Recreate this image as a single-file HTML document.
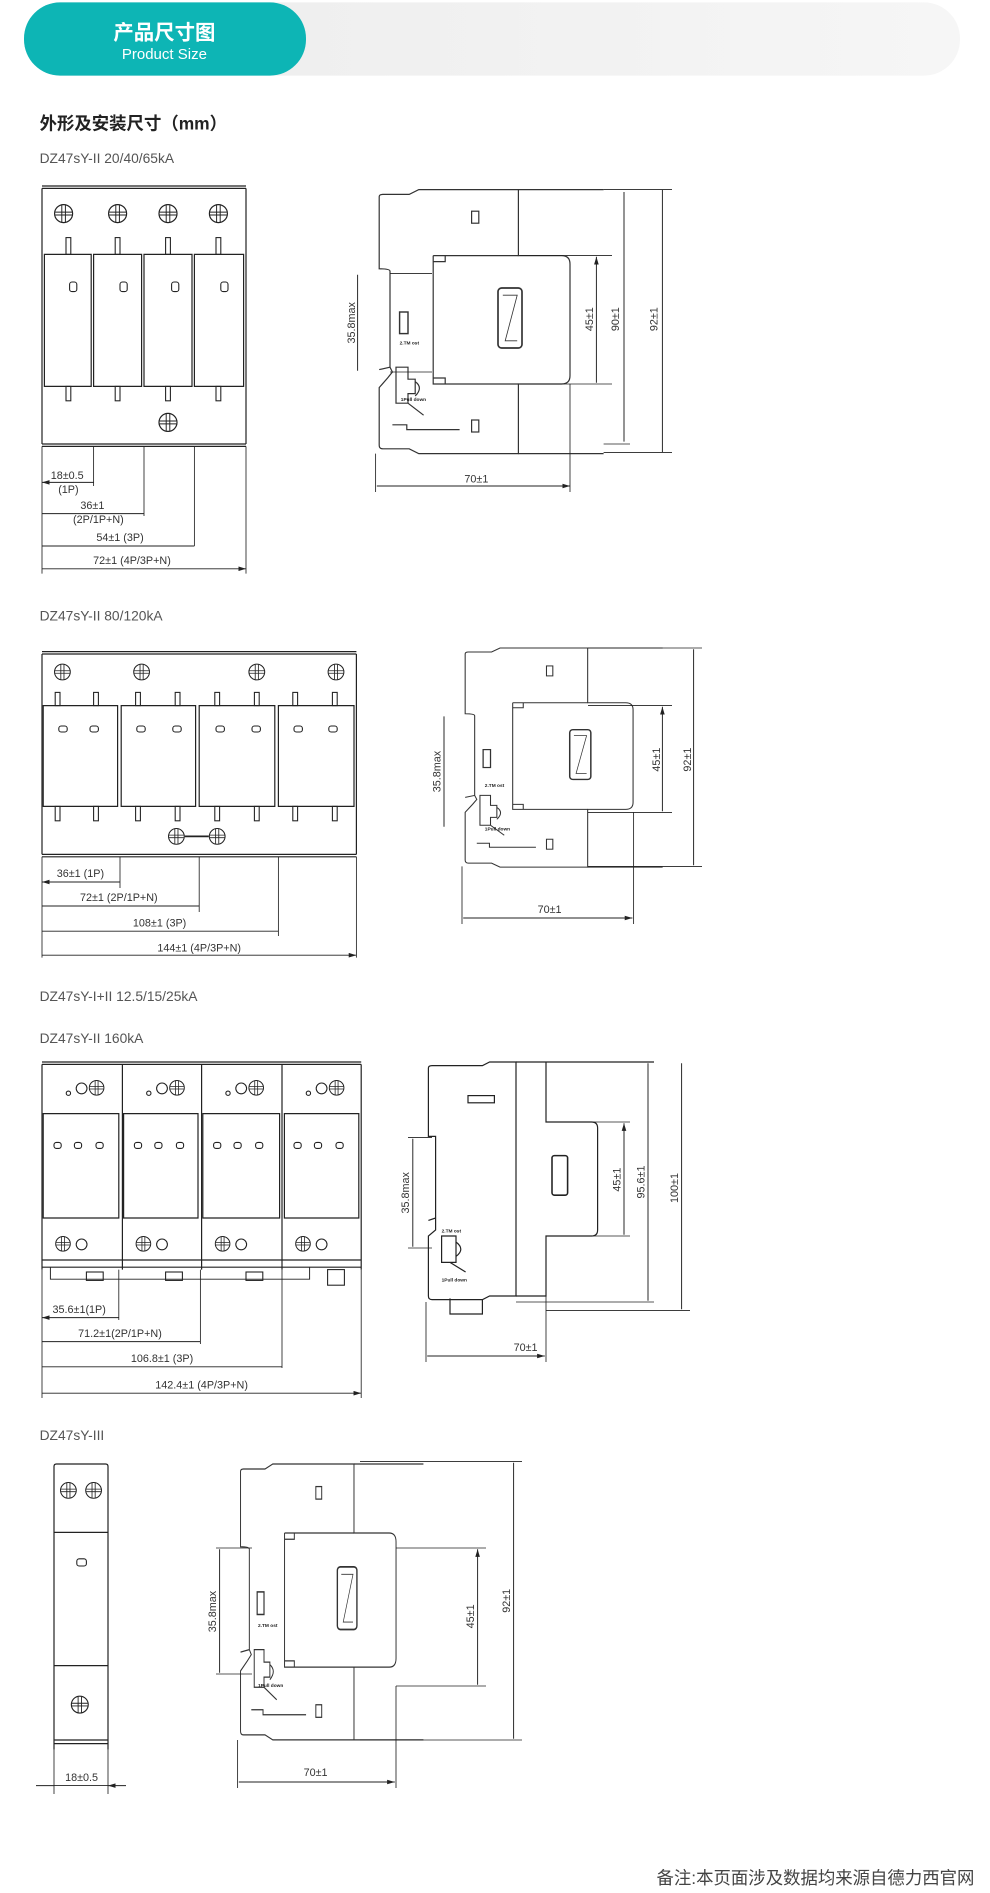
<!DOCTYPE html>
<html><head><meta charset="utf-8"><style>
html,body{margin:0;padding:0;background:#fff;}
svg{display:block}
text{font-family:"Liberation Sans","Noto Sans CJK SC",sans-serif;}
</style></head><body>
<svg width="990" height="1893" viewBox="0 0 825 1577.5" xmlns="http://www.w3.org/2000/svg">
<defs>
<linearGradient id="gb" x1="0" x2="1"><stop offset="0" stop-color="#ececec"/><stop offset="1" stop-color="#f6f6f6"/></linearGradient>
<marker id="ar" viewBox="0 0 10 6" refX="10" refY="3" markerWidth="8" markerHeight="5" orient="auto-start-reverse"><path d="M0,0L10,3L0,6z" fill="#222"/></marker>
<symbol id="sc" viewBox="-8 -8 16 16" overflow="visible">
<circle r="7.5" fill="#fff" stroke="#222" stroke-width="1"/>
<path d="M-1.5,-7V7M1.5,-7V7M-7,-1.2H7M-7,1.2H7" stroke="#222" stroke-width="0.8"/>
</symbol>
<g id="side" fill="none" stroke="#333" stroke-width="1">
<path d="M3,6 Q3,4 6,4 L28,4 L36,0 L119,0 L119,55 L155,55 Q162,55 162,62 L162,155 Q162,162 155,162 L119,162 L119,220 L36,220 L28,216 L6,216 Q3,216 3,213 L3,165 L10,157 L14,152 L12,148 L3,150 M3,6 L3,66 Q12,66 12,68 L12,148"/>
<path d="M119,0 L190,0 M119,220 L190,220"/>
<path d="M48,55 L119,55 M48,55 L48,162 L119,162 M48,60 L58,60 L58,55 M48,157 L58,157 L58,162"/>
<rect x="80" y="18" width="6" height="10"/>
<rect x="80" y="192" width="6" height="10"/>
<rect x="102" y="82" width="20" height="50" rx="3" stroke-width="1.4"/>
<path d="M106,88 L118,88 L108,126 L118,126" stroke-width="0.7"/>
<rect x="20" y="102" width="7" height="18" stroke-width="1.2"/>
<path d="M17,148 L27,148 L27,158 L33,158 L33,170 L27,170 L27,178 L17,178z M33,160 Q40,165 33,172 M27,178 L40,188"/>
<path d="M14,196 L26,196 L26,200 L70,200"/>
</g>
</defs>

<!-- header -->
<rect x="20" y="2" width="780" height="61" rx="30" fill="url(#gb)"/>
<rect x="20" y="2" width="235" height="61" rx="30" fill="#0db5b5"/>
<text x="137" y="33" text-anchor="middle" font-size="17" font-weight="bold" fill="#fff">产品尺寸图</text>
<text x="137" y="49" text-anchor="middle" font-size="12.5" fill="#fff">Product Size</text>

<text x="33" y="108" font-size="14.5" font-weight="bold" fill="#222">外形及安装尺寸（mm）</text>
<g font-size="11.5" fill="#555">
<text x="33" y="136">DZ47sY-II 20/40/65kA</text>
<text x="33" y="517">DZ47sY-II 80/120kA</text>
<text x="33" y="834">DZ47sY-I+II 12.5/15/25kA</text>
<text x="33" y="869">DZ47sY-II 160kA</text>
<text x="33" y="1200">DZ47sY-III</text>
</g>

<g fill="none" stroke="#222" stroke-width="1">
<!-- Section 1 front -->
<path d="M35,157 H205 M35,155 H205 M35,157 V370 M205,157 V370 M35,370 H205 M35,372 H205"/>
<path d="M37,212 H76 V322 H37z M78,212 H118 V322 H78z M120,212 H160 V322 H120z M162,212 H203 V322 H162z"/>
<g stroke-width="0.9">
<rect x="55" y="198" width="4" height="14"/><rect x="96" y="198" width="4" height="14"/><rect x="138" y="198" width="4" height="14"/><rect x="180" y="198" width="4" height="14"/>
<rect x="55" y="322" width="4" height="12"/><rect x="96" y="322" width="4" height="12"/><rect x="138" y="322" width="4" height="12"/><rect x="180" y="322" width="4" height="12"/>
<rect x="58" y="235" width="6" height="8" rx="2"/><rect x="100" y="235" width="6" height="8" rx="2"/><rect x="143" y="235" width="6" height="8" rx="2"/><rect x="184" y="235" width="6" height="8" rx="2"/>
</g>
<path d="M78,372 V405 M120,372 V430 M162,372 V455 M35,372 V478 M205,372 V478" stroke-width="0.7"/>
<path d="M35,402 H78 M35,428 H120 M35,455 H162 M35,474 H205" marker-start="url(#ar)" marker-end="url(#ar)" stroke-width="0.8"/>
<!-- Section 1 side -->
<use href="#side" x="313" y="158"/>
<path d="M433,213 H510 M433,320 H510 M360,228 H325 M360,310 H325 M475,320 V410 M313,378 V410" stroke-width="0.7"/>
<path d="M497,214 V319 M520,160 V368 M552,158 V377 M298,229 V309 M314,405 H475" marker-start="url(#ar)" marker-end="url(#ar)" stroke-width="0.8"/>
<path d="M503,158 H560 M503,377 H560 M503,370 H525" stroke-width="0.7"/>

<!-- Section 2 front -->
<path d="M35,543 H297 M35,545 H297 M35,545 V712 M297,545 V712 M35,712 H297 M35,714 H297"/>
<path d="M36,588 H98 V672 H36z M101,588 H163 V672 H101z M166,588 H229 V672 H166z M232,588 H295 V672 H232z"/>
<g stroke-width="0.9">
<rect x="46" y="577" width="4" height="11"/><rect x="78" y="577" width="4" height="11"/><rect x="113" y="577" width="4" height="11"/><rect x="146" y="577" width="4" height="11"/><rect x="179" y="577" width="4" height="11"/><rect x="212" y="577" width="4" height="11"/><rect x="244" y="577" width="4" height="11"/><rect x="277" y="577" width="4" height="11"/>
<rect x="46" y="672" width="4" height="12"/><rect x="78" y="672" width="4" height="12"/><rect x="113" y="672" width="4" height="12"/><rect x="146" y="672" width="4" height="12"/><rect x="179" y="672" width="4" height="12"/><rect x="212" y="672" width="4" height="12"/><rect x="244" y="672" width="4" height="12"/><rect x="277" y="672" width="4" height="12"/>
<rect x="49" y="605" width="7" height="5" rx="2"/><rect x="75" y="605" width="7" height="5" rx="2"/><rect x="114" y="605" width="7" height="5" rx="2"/><rect x="144" y="605" width="7" height="5" rx="2"/><rect x="180" y="605" width="7" height="5" rx="2"/><rect x="210" y="605" width="7" height="5" rx="2"/><rect x="245" y="605" width="7" height="5" rx="2"/><rect x="274" y="605" width="7" height="5" rx="2"/>
</g>
<path d="M154,697 H174" stroke-width="1.4"/>
<path d="M100,714 V740 M166,714 V760 M232,714 V780 M35,714 V798 M297,714 V798" stroke-width="0.7"/>
<path d="M35,735 H100 M35,755 H166 M35,776 H232 M35,796 H297" marker-start="url(#ar)" marker-end="url(#ar)" stroke-width="0.8"/>
<!-- Section 2 side -->
<use href="#side" transform="translate(385,540) scale(0.88,0.83)"/>
<path d="M490,588 H560 M490,677 H560 M528,677 V770 M385,722 V770 M490,540 H585 M490,722 H585" stroke-width="0.7"/>
<path d="M552,589 V676 M578,541 V721 M370,597 V689 M386,765 H527" marker-start="url(#ar)" marker-end="url(#ar)" stroke-width="0.8"/>

<!-- Section 3 front -->
<path d="M35,885 H301 M35,887 H301 M35,887 V1058 M301,887 V1058 M102,887 V1058 M168,887 V1058 M235,887 V1058"/>
<path d="M36,928 H99 V1015 H36z M103,928 H165 V1015 H103z M169,928 H233 V1015 H169z M237,928 H299 V1015 H237z M35,1050 H301 M35,1056 H301"/>
<path d="M42,1056 V1066 H258 V1056" stroke-width="0.8"/>
<g stroke-width="0.9">
<rect x="72" y="1060" width="14" height="7"/><rect x="138" y="1060" width="14" height="7"/><rect x="205" y="1060" width="14" height="7"/><rect x="273" y="1058" width="14" height="13"/>
<rect x="45" y="952" width="6" height="5" rx="2"/><rect x="62" y="952" width="6" height="5" rx="2"/><rect x="80" y="952" width="6" height="5" rx="2"/>
<rect x="112" y="952" width="6" height="5" rx="2"/><rect x="129" y="952" width="6" height="5" rx="2"/><rect x="147" y="952" width="6" height="5" rx="2"/>
<rect x="178" y="952" width="6" height="5" rx="2"/><rect x="195" y="952" width="6" height="5" rx="2"/><rect x="213" y="952" width="6" height="5" rx="2"/>
<rect x="245" y="952" width="6" height="5" rx="2"/><rect x="262" y="952" width="6" height="5" rx="2"/><rect x="280" y="952" width="6" height="5" rx="2"/>
<circle cx="57" cy="911" r="1.8"/><circle cx="68" cy="907" r="4.5"/><circle cx="124" cy="911" r="1.8"/><circle cx="135" cy="907" r="4.5"/><circle cx="190" cy="911" r="1.8"/><circle cx="201" cy="907" r="4.5"/><circle cx="257" cy="911" r="1.8"/><circle cx="268" cy="907" r="4.5"/>
<circle cx="68" cy="1037" r="4.5"/><circle cx="135" cy="1037" r="4.5"/><circle cx="201" cy="1037" r="4.5"/><circle cx="268" cy="1037" r="4.5"/>
</g>
<path d="M99,1058 V1100 M167,1058 V1120 M235,1058 V1140 M35,1058 V1165 M301,1058 V1165" stroke-width="0.7"/>
<path d="M35,1098 H99 M35,1118 H167 M35,1139 H235 M35,1161 H301" marker-start="url(#ar)" marker-end="url(#ar)" stroke-width="0.8"/>
<!-- Section 3 side -->
<path d="M357,890 Q357,888 360,888 L402,888 L408,885 L430,885 L430,1080 L408,1080 L402,1083 L360,1083 Q357,1083 357,1080 L357,1030 L363,1025 L363,1015 L357,1017 M357,890 L357,947 L363,947 L363,1015"/>
<path d="M430,885 L455,885 L455,935 L493,935 Q498,935 498,940 L498,1025 Q498,1030 493,1030 L455,1030 L455,1080 L430,1080 M455,885 L545,885"/>
<rect x="390" y="913" width="22" height="6"/>
<rect x="460" y="963" width="13" height="33" rx="2" stroke-width="1.3"/>
<path d="M368,1030 L380,1030 L380,1052 L368,1052z M380,1035 Q388,1041 380,1047 M375,1052 L388,1060 M375,1082 L375,1095 L402,1095 L402,1083"/>
<path d="M455,935 H525 M455,1030 H525 M360,948 H340 M360,1040 H340 M455,1092 H575 M455,1030 V1135 M355,1085 V1135" stroke-width="0.7"/>
<path d="M520,936 V1029 M540,886 V1084 M568,886 V1091 M344,949 V1039 M356,1130 H454" marker-start="url(#ar)" marker-end="url(#ar)" stroke-width="0.8"/>
<path d="M430,1085 H545" stroke-width="0.7"/>

<!-- Section 4 front -->
<path d="M45,1222 Q45,1220 47,1220 H88 Q90,1220 90,1222 V1458 M45,1222 V1458 M45,1277 H90 M45,1388 H90 M45,1450 H90 M45,1453 H90"/>
<rect x="64" y="1299" width="8" height="6" rx="2" stroke-width="0.9"/>
<path d="M45,1458 V1495 M90,1458 V1495" stroke-width="0.7"/>
<path d="M30,1488 H45 M105,1488 H90" marker-end="url(#ar)" stroke-width="0.8"/>
<path d="M45,1488 H90" stroke-width="0.7"/>
<!-- Section 4 side -->
<use href="#side" transform="translate(198,1220) scale(0.815,1.045)"/>
<path d="M330,1290 H405 M330,1405 H405 M330,1405 V1490 M198,1450 V1490 M300,1218 H435 M300,1450 H435 M210,1290 H180 M210,1395 H180" stroke-width="0.7"/>
<path d="M398,1291 V1404 M428,1219 V1449 M183,1291 V1394 M199,1485 H329" marker-start="url(#ar)" marker-end="url(#ar)" stroke-width="0.8"/>
</g>

<!-- screws -->
<use href="#sc" x="45" y="170" width="16" height="16"/><use href="#sc" x="90" y="170" width="16" height="16"/><use href="#sc" x="132" y="170" width="16" height="16"/><use href="#sc" x="174" y="170" width="16" height="16"/>
<use href="#sc" x="132" y="344" width="16" height="16"/>
<use href="#sc" x="45" y="553" width="14" height="14"/><use href="#sc" x="111" y="553" width="14" height="14"/><use href="#sc" x="207" y="553" width="14" height="14"/><use href="#sc" x="273" y="553" width="14" height="14"/>
<use href="#sc" x="140" y="690" width="14" height="14"/><use href="#sc" x="174" y="690" width="14" height="14"/>
<use href="#sc" x="74" y="900" width="13" height="13"/><use href="#sc" x="141" y="900" width="13" height="13"/><use href="#sc" x="207" y="900" width="13" height="13"/><use href="#sc" x="274" y="900" width="13" height="13"/>
<use href="#sc" x="46" y="1030" width="13" height="13"/><use href="#sc" x="113" y="1030" width="13" height="13"/><use href="#sc" x="179" y="1030" width="13" height="13"/><use href="#sc" x="246" y="1030" width="13" height="13"/>
<use href="#sc" x="50" y="1235" width="14" height="14"/><use href="#sc" x="71" y="1235" width="14" height="14"/>
<use href="#sc" x="59" y="1413" width="15" height="15"/>

<!-- dimension texts -->
<g font-size="9" fill="#333" text-anchor="middle">
<text x="56" y="399">18±0.5</text><text x="57" y="411">(1P)</text>
<text x="77" y="424">36±1</text><text x="82" y="436">(2P/1P+N)</text>
<text x="100" y="451">54±1 (3P)</text>
<text x="110" y="470">72±1 (4P/3P+N)</text>
<text x="397" y="402">70±1</text>
<text transform="translate(494,266) rotate(-90)">45±1</text>
<text transform="translate(516,266) rotate(-90)">90±1</text>
<text transform="translate(548,266) rotate(-90)">92±1</text>
<text transform="translate(296,269) rotate(-90)">35.8max</text>

<text x="67" y="731">36±1 (1P)</text>
<text x="99" y="751">72±1 (2P/1P+N)</text>
<text x="133" y="772">108±1 (3P)</text>
<text x="166" y="793">144±1 (4P/3P+N)</text>
<text x="458" y="761">70±1</text>
<text transform="translate(550,633) rotate(-90)">45±1</text>
<text transform="translate(576,633) rotate(-90)">92±1</text>
<text transform="translate(367,643) rotate(-90)">35.8max</text>

<text x="66" y="1094">35.6±1(1P)</text>
<text x="100" y="1114">71.2±1(2P/1P+N)</text>
<text x="135" y="1135">106.8±1 (3P)</text>
<text x="168" y="1157">142.4±1 (4P/3P+N)</text>
<text x="438" y="1126">70±1</text>
<text transform="translate(517,983) rotate(-90)">45±1</text>
<text transform="translate(537,985) rotate(-90)">95.6±1</text>
<text transform="translate(565,990) rotate(-90)">100±1</text>
<text transform="translate(341,994) rotate(-90)">35.8max</text>

<text x="68" y="1484">18±0.5</text>
<text x="263" y="1480">70±1</text>
<text transform="translate(395,1347) rotate(-90)">45±1</text>
<text transform="translate(425,1334) rotate(-90)">92±1</text>
<text transform="translate(180,1343) rotate(-90)">35.8max</text>
</g>
<g font-size="4" fill="#222" font-weight="bold">
<text x="333" y="287">2.TM ost</text><text x="334" y="334">1Pull down</text>
<text x="404" y="656">2.TM ost</text><text x="404" y="692">1Pull down</text>
<text x="368" y="1027">2.TM ost</text><text x="368" y="1068">1Pull down</text>
<text x="215" y="1356">2.TM ost</text><text x="215" y="1406">1Pull down</text>
</g>

<text x="812" y="1570" text-anchor="end" font-size="14.5" fill="#444">备注:本页面涉及数据均来源自德力西官网</text>
</svg>
</body></html>
